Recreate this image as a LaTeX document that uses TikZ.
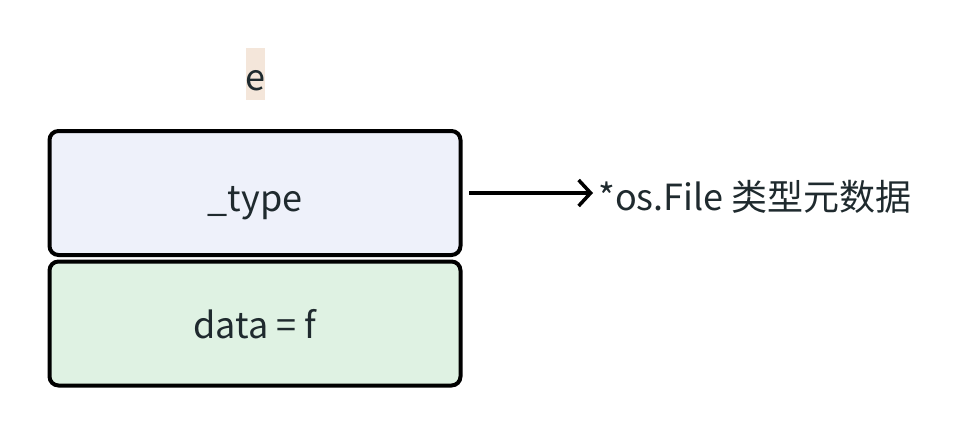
\documentclass[tikz,border=0pt]{standalone}
\usepackage{fontspec}
\setmainfont{Noto Sans CJK SC}
\usetikzlibrary{arrows.meta}
\definecolor{typefill}{HTML}{EEF1FA}
\definecolor{datafill}{HTML}{DFF2E3}
\definecolor{efill}{HTML}{F4E6DA}
\definecolor{txt}{HTML}{1F2A2E}
\tikzset{
  cell/.style={draw=black, line width=4pt, rounded corners=9pt, minimum width=411pt, minimum height=124pt, inner sep=0pt},
  lbl/.style={font=\fontsize{36}{42}\selectfont, text=txt, inner sep=0pt, anchor=base},
  link/.style={line width=3.5pt, shorten >=5pt, -{Straight Barb[length=12pt,width=26pt,line width=3.5pt]}}
}
\begin{document}
\begin{tikzpicture}[x=1pt,y=-1pt]
\useasboundingbox (0,0) rectangle (960,436);
\fill[efill] (246,48) rectangle (265,100);
\node[lbl] (e) at (255.5,90) {e};
\node[cell, fill=typefill] (type) at (255,193) {};
\node[cell, fill=datafill] (data) at (255,323.5) {};
\node[lbl] (typet) at (255,211) {\_type};
\node[lbl] (datat) at (255,338) {data = f};
\node[lbl, anchor=base west] (meta) at (598,210) {*os.File 类型元数据};
\coordinate (s) at (469,193);
\draw[link] (s) -- (meta.west |- s);
\end{tikzpicture}
\end{document}
